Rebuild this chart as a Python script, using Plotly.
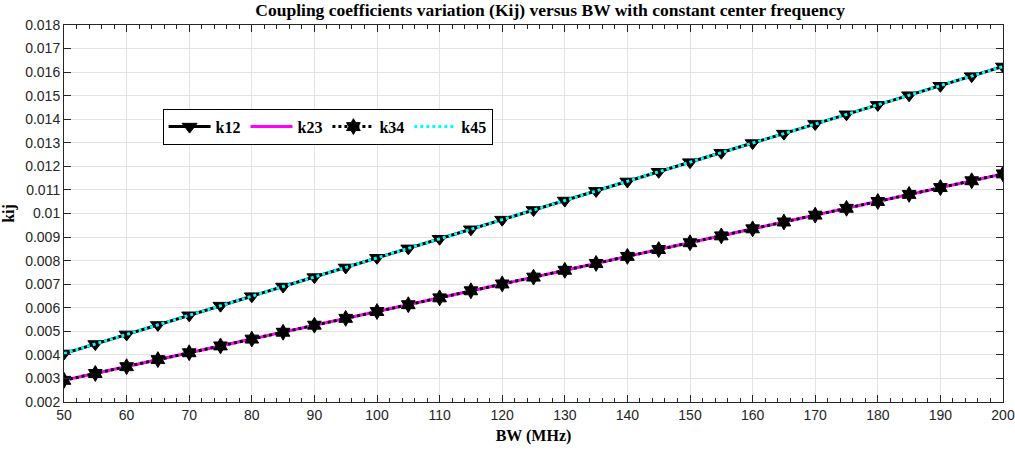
import plotly.graph_objects as go

bw = [50, 55, 60, 65, 70, 75, 80, 85, 90, 95, 100, 105, 110, 115, 120, 125, 130,
      135, 140, 145, 150, 155, 160, 165, 170, 175, 180, 185, 190, 195, 200]
k12 = [0.00406, 0.00446, 0.00487, 0.00527, 0.00568, 0.00609, 0.00649, 0.00690,
       0.00730, 0.00771, 0.00812, 0.00852, 0.00893, 0.00933, 0.00974, 0.01015,
       0.01055, 0.01096, 0.01136, 0.01177, 0.01218, 0.01258, 0.01299, 0.01339,
       0.01380, 0.01421, 0.01461, 0.01502, 0.01542, 0.01583, 0.01624]
k23 = [0.00292, 0.00321, 0.00350, 0.00380, 0.00409, 0.00438, 0.00467, 0.00496,
       0.00526, 0.00555, 0.00584, 0.00613, 0.00642, 0.00672, 0.00701, 0.00730,
       0.00759, 0.00788, 0.00818, 0.00847, 0.00876, 0.00905, 0.00935, 0.00964,
       0.00993, 0.01022, 0.01051, 0.01081, 0.01110, 0.01139, 0.01168]
k34 = list(k23)
k45 = list(k12)

y_ticks = [0.002, 0.003, 0.004, 0.005, 0.006, 0.007, 0.008, 0.009, 0.01,
           0.011, 0.012, 0.013, 0.014, 0.015, 0.016, 0.017, 0.018]
y_ticklabels = ["0.002", "0.003", "0.004", "0.005", "0.006", "0.007", "0.008",
                "0.009", "0.01", "0.011", "0.012", "0.013", "0.014", "0.015",
                "0.016", "0.017", "0.018"]

serif = "Liberation Serif, Times New Roman, serif"
sans = "Liberation Sans, Arial, sans-serif"

fig = go.Figure()
fig.add_trace(go.Scatter(x=bw, y=k12, name="<b>k12</b>", mode="lines+markers",
                         line=dict(color="black", width=3),
                         marker=dict(symbol="triangle-down", size=13, color="black",
                                     line=dict(color="black", width=1))))
fig.add_trace(go.Scatter(x=bw, y=k23, name="<b>k23</b>", mode="lines",
                         line=dict(color="#ff00ff", width=3)))
fig.add_trace(go.Scatter(x=bw, y=k34, name="<b>k34</b>", mode="lines+markers",
                         line=dict(color="black", width=3, dash="dot"),
                         marker=dict(symbol="hexagram", size=12, color="black",
                                     line=dict(color="black", width=1))))
fig.add_trace(go.Scatter(x=bw, y=k45, name="<b>k45</b>", mode="lines",
                         line=dict(color="#00ffff", width=3, dash="dot")))

axis_common = dict(showline=True, linecolor="#262626", linewidth=1, mirror="ticks",
                   ticks="inside", tickcolor="#262626", ticklen=7, automargin=False,
                   showgrid=True, gridcolor="#e3e3e3", gridwidth=1, zeroline=False,
                   tickfont=dict(family=sans, size=14, color="#262626"))

fig.update_xaxes(range=[50, 200], dtick=10, tick0=50,
                 minor=dict(dtick=2, ticks="inside", ticklen=4, tickcolor="#262626", showgrid=False),
                 title=dict(text="<b>BW (MHz)</b>", font=dict(family=serif, size=16, color="black"),
                            standoff=8),
                 **axis_common)
fig.update_yaxes(range=[0.002, 0.018], tickvals=y_ticks, ticktext=y_ticklabels,
                 title=dict(text="<b>kij</b>", font=dict(family=serif, size=16, color="black"),
                            standoff=6),
                 **axis_common)

fig.update_layout(
    width=1015, height=458,
    margin=dict(l=64, r=12, t=25, b=56),
    paper_bgcolor="white", plot_bgcolor="white",
    title=dict(text="<b>Coupling coefficients variation (Kij) versus BW with constant center frequency</b>",
               font=dict(family=serif, size=17.5, color="black"),
               x=0.542, xanchor="center", y=0.992, yanchor="top", automargin=False),
    legend=dict(orientation="h", x=0.105, y=0.778, xanchor="left", yanchor="top",
                bgcolor="white", bordercolor="black", borderwidth=1,
                font=dict(family=serif, size=16, color="black"),
                itemwidth=42, tracegroupgap=0),
    showlegend=True,
)

fig.write_html("out.html", config={"displayModeBar": False},
               post_script="document.body.style.margin='0';document.body.style.padding='0';")
